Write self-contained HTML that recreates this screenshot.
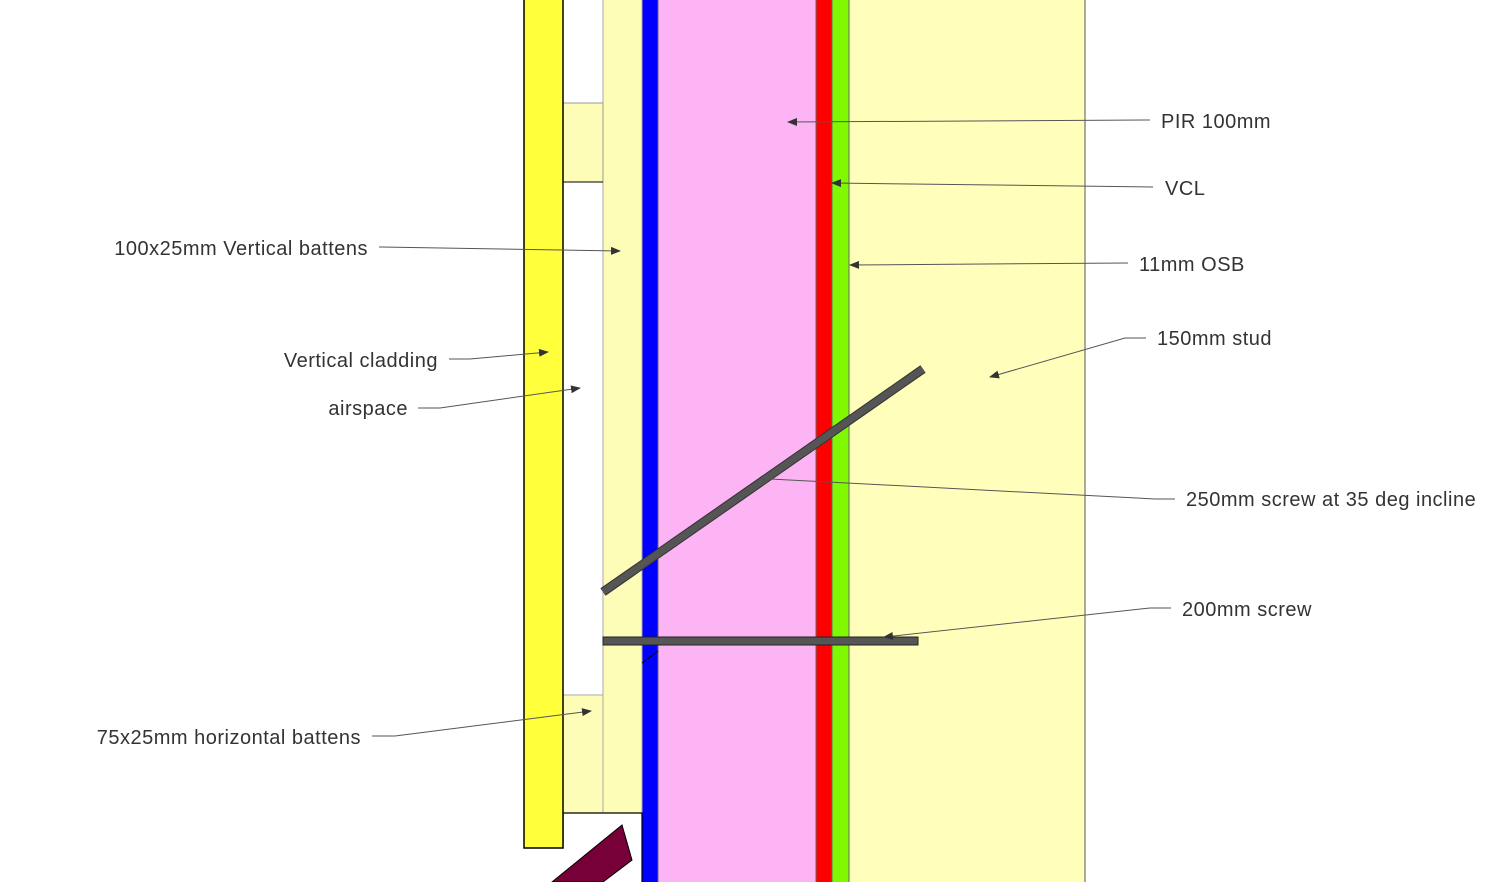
<!DOCTYPE html>
<html><head><style>
body{margin:0;background:#fff;}
svg text{font-family:"Liberation Sans",sans-serif;font-size:20px;fill:#333;letter-spacing:0.5px;}
</style></head><body>
<svg width="1495" height="882" viewBox="0 0 1495 882" xmlns="http://www.w3.org/2000/svg">
<defs>
<marker id="a" markerWidth="10" markerHeight="8" refX="9" refY="4" orient="auto" markerUnits="userSpaceOnUse">
<path d="M0,0 L10,4 L0,8 z" fill="#333"/>
</marker>
</defs>
<rect x="849" y="-2" width="236" height="890" fill="#ffffbb" stroke="#555" stroke-width="1"/>
<rect x="832" y="-2" width="17" height="890" fill="#7ff800" stroke="#666" stroke-width="1"/>
<rect x="816" y="-2" width="16" height="890" fill="#ff0000" stroke="#666" stroke-width="1"/>
<rect x="658" y="-2" width="158" height="890" fill="#fdb4f4" stroke="#666" stroke-width="1"/>
<rect x="642" y="-2" width="16" height="890" fill="#0000ff" stroke="#666" stroke-width="1"/>
<rect x="603" y="-2" width="39" height="815" fill="#fdfdb8" stroke="#aaa" stroke-width="1"/>
<rect x="563" y="103" width="40" height="79" fill="#fdfdb8" stroke="#999" stroke-width="1"/>
<line x1="563" y1="182" x2="603" y2="182" stroke="#000" stroke-width="1"/>
<rect x="563" y="695" width="40" height="118" fill="#fdfdb8" stroke="#aaa" stroke-width="1"/>
<path d="M563,848 L563,813 L642,813 L642,882" fill="#fff" stroke="#000" stroke-width="1.2"/>
<polygon points="552,882 622,825 632,860 603,882" fill="#780038" stroke="#000" stroke-width="1"/>
<rect x="524" y="-2" width="39" height="850" fill="#ffff3c" stroke="#000" stroke-width="1.5"/>
<line x1="603" y1="592" x2="923" y2="369" stroke="#333" stroke-width="9"/>
<line x1="603" y1="592" x2="923" y2="369" stroke="#555" stroke-width="7"/>
<rect x="603" y="637" width="315" height="8" fill="#555" stroke="#222" stroke-width="1"/>
<line x1="642" y1="663" x2="658" y2="651" stroke="#000" stroke-width="1"/>
<g stroke="#555" stroke-width="1" fill="none">
<path d="M1150,120 L788,122" marker-end="url(#a)"/>
<path d="M1153,187 L832,183" marker-end="url(#a)"/>
<path d="M1128,263 L850,265" marker-end="url(#a)"/>
<path d="M1146,338 L1125,338 L990,377" marker-end="url(#a)"/>
<path d="M379,247 L620,251" marker-end="url(#a)"/>
<path d="M449,359 L470,359 L548,352" marker-end="url(#a)"/>
<path d="M418,408 L440,408 L580,388" marker-end="url(#a)"/>
<path d="M1175,499 L1155,499 L770,479"/>
<path d="M1171,608 L1150,608 L884,637" marker-end="url(#a)"/>
<path d="M372,736 L395,736 L591,711" marker-end="url(#a)"/>
</g>
<text x="1161" y="128">PIR 100mm</text>
<text x="1165" y="195">VCL</text>
<text x="1139" y="271">11mm OSB</text>
<text x="1157" y="345">150mm stud</text>
<text x="1186" y="506">250mm screw at 35 deg incline</text>
<text x="1182" y="616">200mm screw</text>
<text x="368" y="255" text-anchor="end">100x25mm Vertical battens</text>
<text x="438" y="367" text-anchor="end">Vertical cladding</text>
<text x="408" y="415" text-anchor="end">airspace</text>
<text x="361" y="744" text-anchor="end">75x25mm horizontal battens</text>
</svg>
</body></html>
